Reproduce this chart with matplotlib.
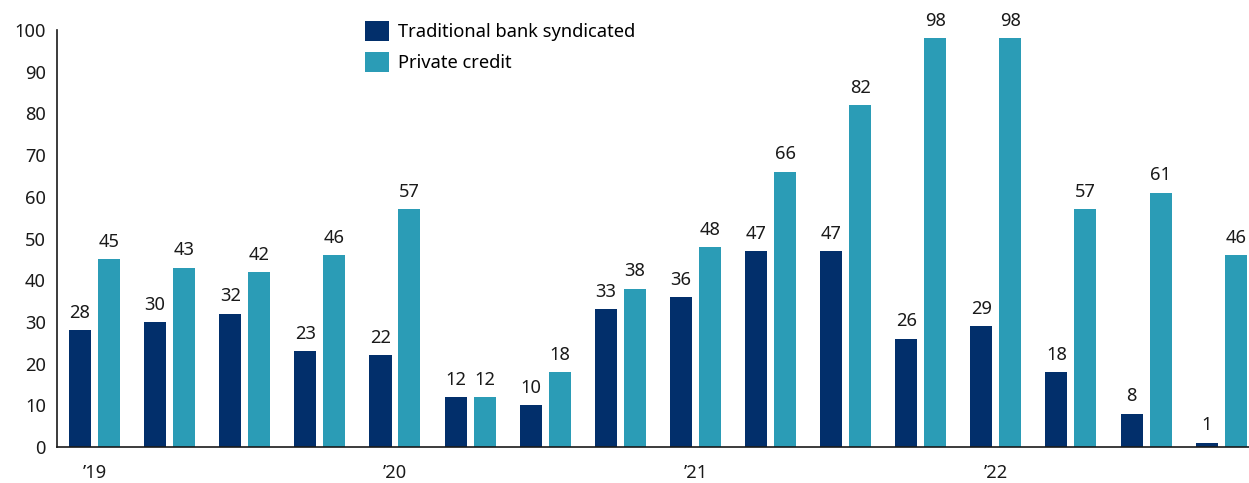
import matplotlib
matplotlib.use("Agg")
import matplotlib.pyplot as plt
import numpy as np

categories = ["’19", "", "", "", "’20", "", "", "", "’21", "", "", "", "’22", "", "", ""]
traditional = [28, 30, 32, 23, 22, 12, 10, 33, 36, 47, 47, 26, 29, 18, 8, 1]
private = [45, 43, 42, 46, 57, 12, 18, 38, 48, 66, 82, 98, 98, 57, 61, 46]
series_names = ["Traditional bank syndicated", "Private credit"]
colors = ["#022F6B", "#2B9CB6"]

plt.rcParams['font.family'] = ['Noto Sans', 'DejaVu Sans']
FS = 13.2

fig = plt.figure(figsize=(12.49, 4.83), dpi=100)
ax = fig.add_axes([57/1249, 36/483, 1 - 57/1249, (447-30)/483])

x = np.arange(len(categories))
w = 0.293
off = 0.193
b1 = ax.bar(x - off, traditional, width=w, color=colors[0], label=series_names[0])
b2 = ax.bar(x + off, private, width=w, color=colors[1], label=series_names[1])

for bars, vals in ((b1, traditional), (b2, private)):
    for r, v in zip(bars, vals):
        ax.annotate(str(v), (r.get_x() + r.get_width()/2, r.get_height()),
                    xytext=(0, 6), textcoords="offset points",
                    ha="center", va="bottom", fontsize=FS, color="#1a1a1a")

ax.set_xlim(-0.5, 15.37)
ax.set_ylim(0, 100)
ax.set_yticks(np.arange(0, 101, 10))
ax.set_xticks(x)
ax.set_xticklabels(categories)
ax.tick_params(axis='both', length=0, labelsize=FS, colors="#1a1a1a")
ax.tick_params(axis='y', pad=8)
ax.tick_params(axis='x', pad=12)
for s in ("top", "right"):
    ax.spines[s].set_visible(False)
for s in ("left", "bottom"):
    ax.spines[s].set_color("#1a1a1a")
    ax.spines[s].set_linewidth(1.2)

leg = ax.legend(loc="upper left", bbox_to_anchor=(301/1192, 1.04), frameon=False,
                fontsize=FS, handlelength=1.3, handleheight=1.3, handletextpad=0.5,
                labelspacing=0.6, borderaxespad=0)

fig.savefig("out.png", dpi=100)
